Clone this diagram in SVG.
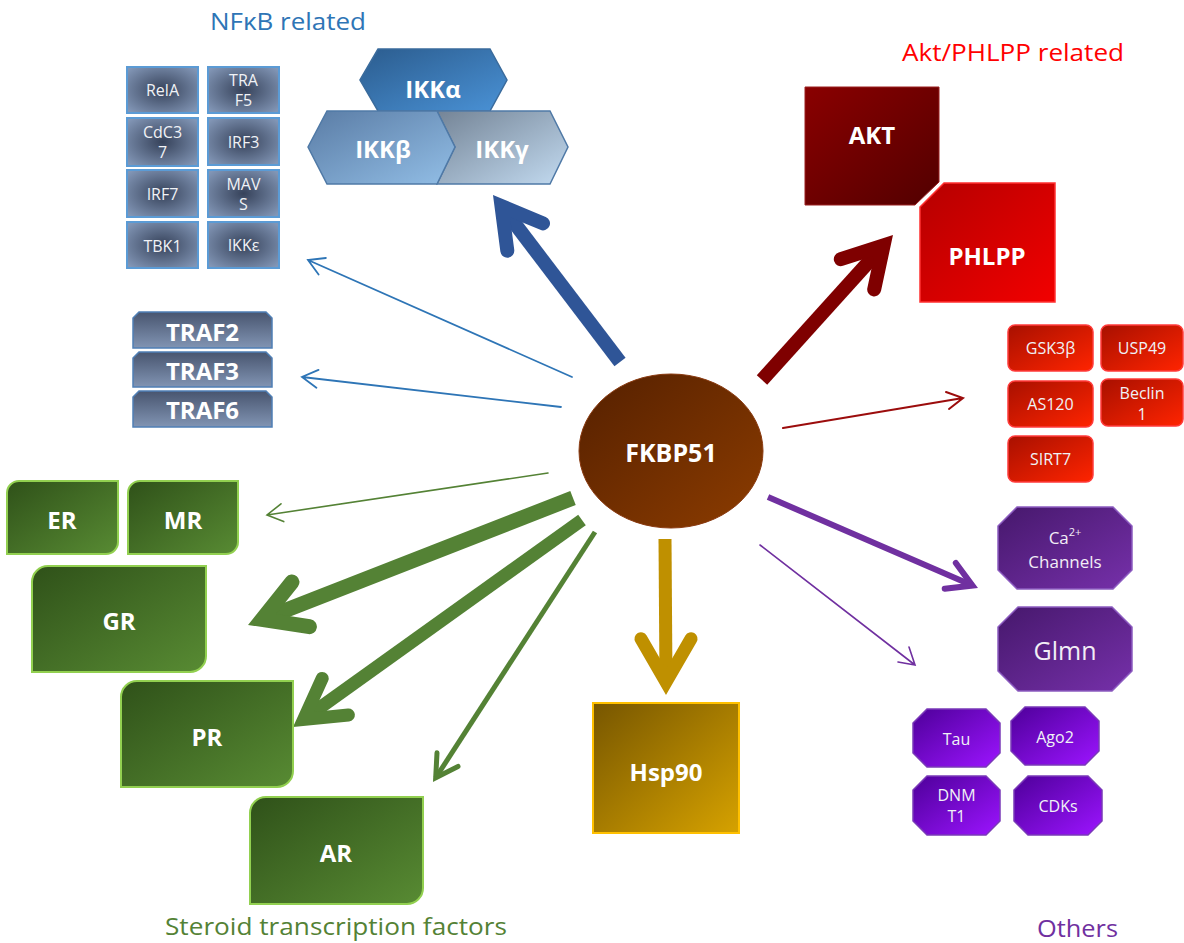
<svg xmlns="http://www.w3.org/2000/svg" width="1184" height="943" viewBox="0 0 1184 943">
<defs>
<style>
text{font-family:"Open Sans","Liberation Sans",sans-serif;}
.t{fill:#fff;font-weight:bold;font-size:24px;text-anchor:middle;dominant-baseline:central;}
.s{fill:#f0f2f6;font-size:16px;text-anchor:middle;dominant-baseline:central;}
.m{fill:#f2eef6;font-size:17px;text-anchor:middle;dominant-baseline:central;}
.l{fill:#f2eef6;font-size:25px;text-anchor:middle;dominant-baseline:central;}
.title{font-size:24px;}
.nfb{fill:url(#gNf);stroke:#5b9bd5;stroke-width:2;}
.traf{fill:url(#gTraf);stroke:#4f7fb5;stroke-width:1.5;}
.grn{fill:url(#gGreen);stroke:#92d050;stroke-width:2;}
.rsm{fill:url(#gRedS);stroke:#ff3b3b;stroke-width:1.5;}
.pbig{fill:url(#gPurB);stroke:#8c5cc0;stroke-width:1.5;}
.psm{fill:url(#gPurS);stroke:#7a3ab8;stroke-width:1.5;}
.thick{fill:none;stroke-linecap:butt;}
.head{fill:none;stroke-linecap:round;stroke-linejoin:miter;stroke-miterlimit:10;}
.thin{fill:none;stroke-linecap:round;stroke-linejoin:miter;}
</style>
<radialGradient id="gNf" cx="0.5" cy="0.5" r="0.65">
<stop offset="0" stop-color="#36425a"/><stop offset="1" stop-color="#8296b6"/>
</radialGradient>
<linearGradient id="gTraf" x1="0" y1="0" x2="0" y2="1">
<stop offset="0" stop-color="#48556f"/><stop offset="1" stop-color="#8194b3"/>
</linearGradient>
<linearGradient id="gIa" x1="0" y1="0" x2="1" y2="1">
<stop offset="0" stop-color="#2b5c8e"/><stop offset="1" stop-color="#4a92d6"/>
</linearGradient>
<linearGradient id="gIb" x1="0" y1="0" x2="1" y2="1">
<stop offset="0" stop-color="#5a7ca5"/><stop offset="1" stop-color="#92bee6"/>
</linearGradient>
<linearGradient id="gIg" x1="0" y1="0" x2="1" y2="1">
<stop offset="0" stop-color="#748496"/><stop offset="1" stop-color="#c3dbf1"/>
</linearGradient>
<linearGradient id="gAkt" x1="0" y1="0" x2="1" y2="1">
<stop offset="0" stop-color="#8a0000"/><stop offset="1" stop-color="#520000"/>
</linearGradient>
<linearGradient id="gPh" x1="0" y1="0" x2="1" y2="1">
<stop offset="0" stop-color="#b50000"/><stop offset="1" stop-color="#f20000"/>
</linearGradient>
<linearGradient id="gRedS" x1="0" y1="0" x2="1" y2="1">
<stop offset="0" stop-color="#a81000"/><stop offset="1" stop-color="#ff2400"/>
</linearGradient>
<linearGradient id="gPurB" x1="0" y1="0" x2="1" y2="1">
<stop offset="0" stop-color="#46186c"/><stop offset="1" stop-color="#7630aa"/>
</linearGradient>
<linearGradient id="gPurS" x1="0" y1="0" x2="1" y2="1">
<stop offset="0" stop-color="#4e009a"/><stop offset="1" stop-color="#9c14ff"/>
</linearGradient>
<linearGradient id="gGreen" x1="0" y1="0" x2="1" y2="1">
<stop offset="0" stop-color="#2f5119"/><stop offset="1" stop-color="#588b33"/>
</linearGradient>
<linearGradient id="gFk" x1="0" y1="0" x2="1" y2="1">
<stop offset="0" stop-color="#552000"/><stop offset="1" stop-color="#8c3c00"/>
</linearGradient>
<linearGradient id="gHsp" x1="0" y1="0" x2="1" y2="1">
<stop offset="0" stop-color="#775600"/><stop offset="1" stop-color="#d6a200"/>
</linearGradient>
</defs>
<rect width="1184" height="943" fill="#fff"/>

<!-- titles -->
<text class="title" x="210" y="30" fill="#2e75b6" textLength="156" lengthAdjust="spacingAndGlyphs">NFκB related</text>
<text class="title" x="902" y="61" fill="#ff0000" textLength="222" lengthAdjust="spacingAndGlyphs">Akt/PHLPP related</text>
<text class="title" x="165" y="935" fill="#548235" textLength="342" lengthAdjust="spacingAndGlyphs">Steroid transcription factors</text>
<text class="title" x="1037" y="937" fill="#7030a0" textLength="81" lengthAdjust="spacingAndGlyphs">Others</text>

<!-- connectors -->
<g id="connectors">
<path class="thick" d="M620,362 L501.5,206.1" stroke="#2f5597" stroke-width="14"/>
<path class="head" d="M507.3,250.7 L501.5,206.1 L543,223.4" stroke="#2f5597" stroke-width="14"/>
<path class="thin" d="M572,377 L308,260 M318.6,274.5 L308,260 L325.9,258" stroke="#2e75b6" stroke-width="1.8"/>
<path class="thin" d="M561,407 L302,377 M316.4,387.7 L302,377 L318.5,369.9" stroke="#2e75b6" stroke-width="1.8"/>
<path class="thick" d="M762,380 L883.6,245.4" stroke="#7f0000" stroke-width="14"/>
<path class="head" d="M840.8,259.2 L883.6,245.4 L874.2,289.4" stroke="#7f0000" stroke-width="14"/>
<path class="thin" d="M783,428 L963,398 M946,392 L963,398 L949,409" stroke="#9b0c0c" stroke-width="2"/>
<path class="thin" d="M548,473 L267,515 M281,503.8 L267,515 L283.7,521.6" stroke="#548235" stroke-width="1.6"/>
<path class="thick" d="M573,498 L262,619.5" stroke="#548235" stroke-width="15"/>
<path class="head" d="M292,582 L262,619.5 L309.4,626.7" stroke="#548235" stroke-width="15"/>
<path class="thick" d="M582,520 L303.6,719.4" stroke="#548235" stroke-width="13"/>
<path class="head" d="M322.2,678.4 L303.6,719.4 L348.4,715" stroke="#548235" stroke-width="13"/>
<path class="thick" d="M595,532 L435.7,777.8" stroke="#548235" stroke-width="5"/>
<path class="head" d="M437,752.8 L435.7,777.8 L458,766.4" stroke="#548235" stroke-width="5"/>
<path class="thick" d="M665,539 L666,682" stroke="#bf9000" stroke-width="13"/>
<path class="head" d="M641,638.7 L666,682 L691,638.7" stroke="#bf9000" stroke-width="13"/>
<path class="thick" d="M768,497 L972.5,585.6" stroke="#7030a0" stroke-width="6"/>
<path class="head" d="M955.8,563 L972.5,585.6 L944.7,588.8" stroke="#7030a0" stroke-width="6"/>
<path class="thin" d="M760,545 L915,665 M909,647 L915,665 L898,662" stroke="#7030a0" stroke-width="1.6"/>
</g>

<!-- NFkB small boxes -->
<g id="relA"><rect class="nfb" x="127" y="67" width="71" height="46"/><text class="s" x="162.5" y="90">RelA</text></g>
<g id="traf5"><rect class="nfb" x="208" y="67" width="71" height="46"/><text class="s" x="243.5" y="80">TRA</text><text class="s" x="243.5" y="100">F5</text></g>
<g id="cdc37"><rect class="nfb" x="127" y="118" width="71" height="48"/><text class="s" x="162.5" y="132">CdC3</text><text class="s" x="162.5" y="152">7</text></g>
<g id="irf3"><rect class="nfb" x="208" y="118" width="71" height="47"/><text class="s" x="243.5" y="142">IRF3</text></g>
<g id="irf7"><rect class="nfb" x="127" y="170" width="71" height="47"/><text class="s" x="162.5" y="194">IRF7</text></g>
<g id="mavs"><rect class="nfb" x="208" y="170" width="71" height="47"/><text class="s" x="243.5" y="184">MAV</text><text class="s" x="243.5" y="204">S</text></g>
<g id="tbk1"><rect class="nfb" x="127" y="222" width="71" height="46"/><text class="s" x="162.5" y="246">TBK1</text></g>
<g id="ikke"><rect class="nfb" x="208" y="222" width="71" height="46"/><text class="s" x="243.5" y="245">IKKε</text></g>

<!-- IKK -->
<g id="ikka"><polygon points="360,80 378,49 490,49 507,80 490,111 378,111" fill="url(#gIa)" stroke="#3a6b9c" stroke-width="1.5"/><text class="t" x="433" y="88">IKKα</text></g>
<g id="ikkg"><polygon points="437,111 550,111 568,147 550,184 437,184 455,147" fill="url(#gIg)" stroke="#4f79a6" stroke-width="1.5"/><text class="t" x="502" y="148">IKKγ</text></g>
<g id="ikkb"><polygon points="308,147 327,111 437,111 455,147 437,184 327,184" fill="url(#gIb)" stroke="#4f79a6" stroke-width="1.5"/><text class="t" x="383" y="148">IKKβ</text></g>

<!-- TRAFs -->
<g id="traf2"><path class="traf" d="M133,318 L139,312 L266,312 L272,318 L272,348 L133,348 Z"/><text class="t" x="202.5" y="331">TRAF2</text></g>
<g id="traf3"><path class="traf" d="M133,358 L139,352 L266,352 L272,358 L272,387 L133,387 Z"/><text class="t" x="202.5" y="370">TRAF3</text></g>
<g id="traf6"><path class="traf" d="M133,397 L139,391 L266,391 L272,397 L272,427 L133,427 Z"/><text class="t" x="202.5" y="409">TRAF6</text></g>

<!-- AKT / PHLPP -->
<g id="akt"><path d="M805,87 L939,87 L939,182 L915,205 L805,205 Z" fill="url(#gAkt)" stroke="#9a2020" stroke-width="1"/><text class="t" x="872" y="134">AKT</text></g>
<g id="phlpp"><path d="M944,183 L1055,183 L1055,302 L920,302 L920,207 Z" fill="url(#gPh)" stroke="#ff3030" stroke-width="1.5"/><text class="t" x="987" y="255">PHLPP</text></g>

<!-- red small -->
<g id="gsk3b"><rect class="rsm" x="1008" y="325" width="85" height="46" rx="7"/><text class="s" x="1050.5" y="348">GSK3β</text></g>
<g id="usp49"><rect class="rsm" x="1101" y="325" width="82" height="46" rx="7"/><text class="s" x="1142" y="348">USP49</text></g>
<g id="as120"><rect class="rsm" x="1008" y="381" width="85" height="46" rx="7"/><text class="s" x="1050.5" y="404">AS120</text></g>
<g id="beclin1"><rect class="rsm" x="1101" y="379" width="82" height="47" rx="7"/><text class="s" x="1142" y="393">Beclin</text><text class="s" x="1142" y="414">1</text></g>
<g id="sirt7"><rect class="rsm" x="1008" y="436" width="85" height="46" rx="7"/><text class="s" x="1050.5" y="459">SIRT7</text></g>

<!-- FKBP51 -->
<g id="fkbp51"><ellipse cx="671" cy="451" rx="92" ry="77" fill="url(#gFk)" stroke="#8a3a10" stroke-width="1"/><text class="t" x="671" y="452" style="font-size:25px">FKBP51</text></g>

<!-- Hsp90 -->
<g id="hsp90"><rect x="593" y="703" width="146" height="130" fill="url(#gHsp)" stroke="#ffc000" stroke-width="2"/><text class="t" x="666" y="771">Hsp90</text></g>

<!-- green -->
<g id="er"><path class="grn" d="M7,493 A12,12 0 0 1 19,481 L118,481 L118,542 A12,12 0 0 1 106,554 L7,554 Z"/><text class="t" x="62" y="519">ER</text></g>
<g id="mr"><path class="grn" d="M128,493 A12,12 0 0 1 140,481 L238,481 L238,542 A12,12 0 0 1 226,554 L128,554 Z"/><text class="t" x="183" y="519">MR</text></g>
<g id="gr"><path class="grn" d="M32,582 A16,16 0 0 1 48,566 L206,566 L206,656 A16,16 0 0 1 190,672 L32,672 Z"/><text class="t" x="119" y="620">GR</text></g>
<g id="pr"><path class="grn" d="M121,697 A16,16 0 0 1 137,681 L293,681 L293,771 A16,16 0 0 1 277,787 L121,787 Z"/><text class="t" x="207" y="736">PR</text></g>
<g id="ar"><path class="grn" d="M250,813 A16,16 0 0 1 266,797 L423,797 L423,888 A16,16 0 0 1 407,904 L250,904 Z"/><text class="t" x="336" y="852">AR</text></g>

<!-- purple -->
<g id="ca"><polygon class="pbig" points="1017,507 1113,507 1132,526 1132,570 1113,589 1017,589 998,570 998,526"/><text class="m" x="1065" y="537">Ca<tspan style="font-size:11px" dy="-6">2+</tspan></text><text class="m" x="1065" y="561">Channels</text></g>
<g id="glmn"><polygon class="pbig" points="1018,607 1112,607 1132,627 1132,671 1112,691 1018,691 998,671 998,627"/><text class="l" x="1065" y="650">Glmn</text></g>
<g id="tau"><polygon class="psm" points="927,709 986,709 1000,723 1000,753 986,767 927,767 913,753 913,723"/><text class="s" x="956.5" y="739">Tau</text></g>
<g id="ago2"><polygon class="psm" points="1025,707 1085,707 1099,721 1099,751 1085,765 1025,765 1011,751 1011,721"/><text class="s" x="1055" y="737">Ago2</text></g>
<g id="dnmt1"><polygon class="psm" points="927,776 986,776 1000,790 1000,821 986,835 927,835 913,821 913,790"/><text class="s" x="956.5" y="795">DNM</text><text class="s" x="956.5" y="816">T1</text></g>
<g id="cdks"><polygon class="psm" points="1028,776 1088,776 1102,790 1102,821 1088,835 1028,835 1014,821 1014,790"/><text class="s" x="1058" y="806">CDKs</text></g>
</svg>
